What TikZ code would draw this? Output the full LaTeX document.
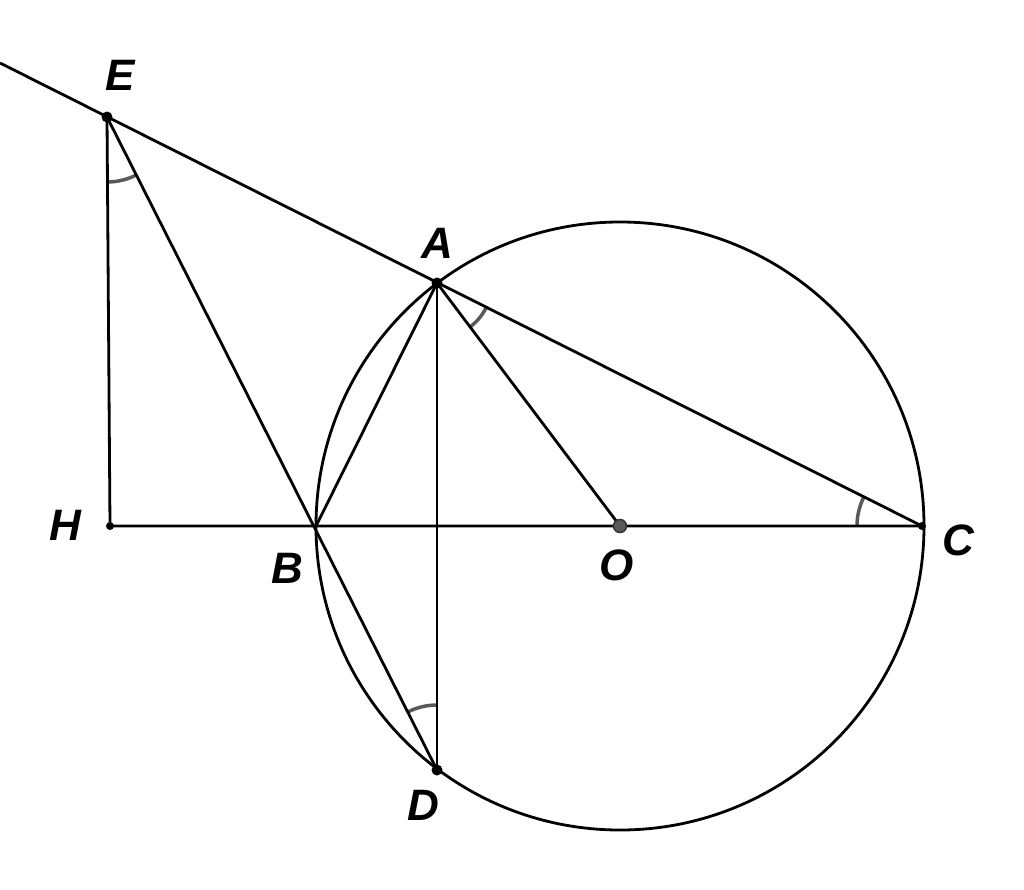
\documentclass[tikz,border=0pt]{standalone}
\usepackage{fontspec}
\setmainfont{Liberation Sans}
\begin{document}
\begin{tikzpicture}[x=1pt,y=-1pt,
  seg/.style={line width=2.8pt,black},
  angmark/.style={line width=3.5pt,gray!70!black},
  lbl/.style={font=\fontsize{44}{48}\selectfont\bfseries\itshape,inner sep=0pt}]
\useasboundingbox (0,0) rectangle (1024,889);
\coordinate (O) at (620,526);
\coordinate (A) at (437,283);
\coordinate (B) at (316,526);
\coordinate (C) at (922,526);
\coordinate (D) at (437,770);
\coordinate (E) at (107,117);
\coordinate (H) at (110,526);
\coordinate (X) at (0,63);
% angle marks
\draw[angmark] ([shift={(62.9:65)}]E) arc[start angle=62.9, end angle=89.6, radius=65];
\draw[angmark] ([shift={(26.6:55)}]A) arc[start angle=26.6, end angle=53.0, radius=55];
\draw[angmark] ([shift={(180:65)}]C) arc[start angle=180, end angle=206.6, radius=65];
\draw[angmark] ([shift={(243.6:65)}]D) arc[start angle=243.6, end angle=270, radius=65];
\draw[seg] (O) circle[radius=304];
\draw[seg] (X) -- (C);
\draw[seg] (E) -- (H) -- (C);
\draw[seg] (E) -- (D);
\draw[seg] (A) -- (B);
\draw[seg] (A) -- (D);
\draw[seg] (A) -- (O);
\fill (E) circle[radius=5.5];
\fill (A) circle[radius=5.5];
\fill (D) circle[radius=5.5];
\fill (H) circle[radius=4];
\fill (C) circle[radius=4];
\filldraw[fill=gray!70!black,draw=black!80,line width=1.5pt] (O) circle[radius=6.5];
\node[lbl] (lE) at (120,75) {E};
\node[lbl] (lA) at (437,243) {A};
\node[lbl] (lH) at (65,525) {H};
\node[lbl] (lB) at (287,568) {B};
\node[lbl] (lO) at (617,565) {O};
\node[lbl] (lC) at (958,540) {C};
\node[lbl] (lD) at (423,805) {D};
\end{tikzpicture}
\end{document}
